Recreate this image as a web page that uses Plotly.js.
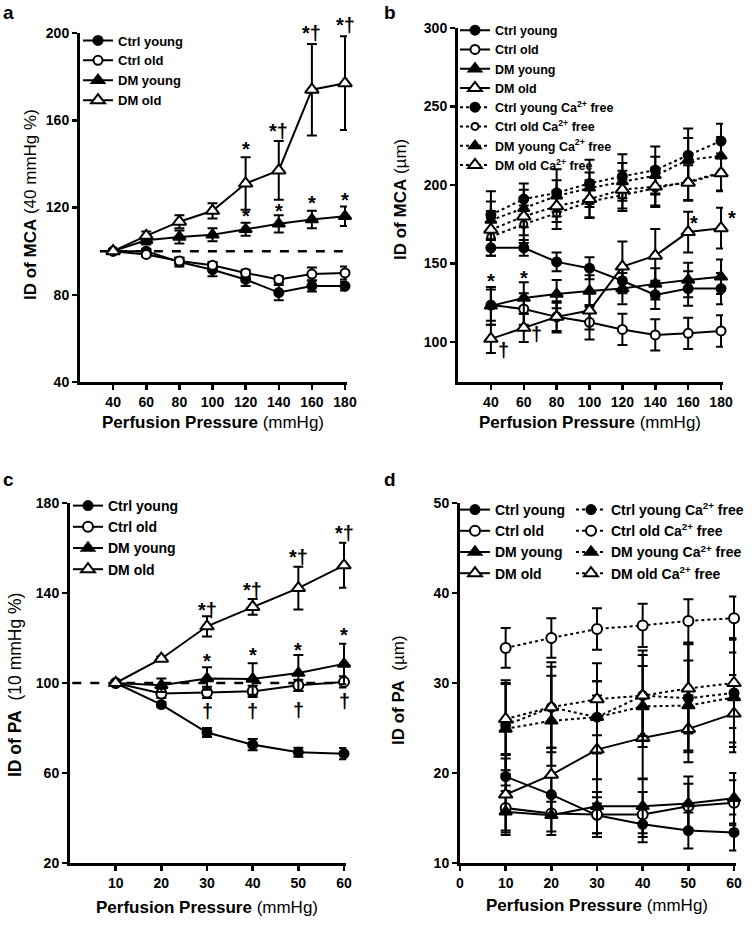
<!DOCTYPE html>
<html>
<head>
<meta charset="utf-8">
<script src="https://cdn.plot.ly/plotly-3.0.1.min.js"></script>
<style>
  html, body { margin:0; padding:0; background:#fff; }
  #chart { width:756px; height:940px; }
</style>
</head>
<body>
<div id="chart"></div>
<script>
// pressures
const xMCA = [40, 60, 80, 100, 120, 140, 160, 180];
const xPA = [10, 20, 30, 40, 50, 60];

// panel a: ID of MCA, % of 40 mmHg
const aCtrlYoung = [100, 100, 95, 91.5, 87, 81, 84, 84];
const aCtrlYoungErr = [0.5, 1, 2, 3, 3, 3.5, 2.5, 2];
const aCtrlOld = [100, 98.5, 95.5, 93.5, 90, 87, 89.5, 90];
const aCtrlOldErr = [0.5, 1, 1.5, 1.5, 1.5, 1.5, 3, 3];
const aDmYoung = [100, 105, 106.5, 107.5, 110, 112.5, 114.5, 116];
const aDmYoungErr = [1, 2, 3, 3, 3, 4, 4, 4.5];
const aDmOld = [100, 107, 113.5, 118.5, 131, 137, 174, 177];
const aDmOldErr = [1, 2, 3, 3.5, 12, 13.5, 21, 21.5];

// panel b: ID of MCA, um
const bCtrlYoung = [160, 160, 151, 147, 139, 130, 134, 134];
const bCtrlYoungErr = [5, 5, 6, 7, 8, 9, 11, 10];
const bCtrlOld = [123.5, 121, 116, 112.5, 108, 104.5, 105.5, 107];
const bCtrlOldErr = [10, 10, 10, 11, 10, 10, 10, 10];
const bDmYoung = [123, 128, 130.5, 132.5, 134, 137, 139.5, 141.5];
const bDmYoungErr = [12, 10, 9, 10, 10, 10, 11, 11];
const bDmOld = [102, 109, 116, 120, 148, 155, 170, 172.5];
const bDmOldErr = [9, 9, 9, 12, 16, 17, 13, 13];
const bCtrlYoungCa = [181, 191, 195, 201, 205.5, 209.5, 219, 228];
const bCtrlYoungCaErr = [15, 10, 15, 15, 14, 15, 17, 11];
const bCtrlOldCa = [167, 175, 182, 189.5, 193.5, 198, 202, 208];
const bCtrlOldCaErr = [12, 12, 10, 10, 10, 12, 12, 12];
const bDmYoungCa = [177.5, 185, 193, 198, 202, 206, 216, 218.5];
const bDmYoungCaErr = [12, 12, 10, 10, 12, 12, 14, 12];
const bDmOldCa = [171.5, 180, 186.5, 191, 197, 199, 201.5, 207.5];
const bDmOldCaErr = [12, 12, 10, 12, 12, 12, 11, 11];

// panel c: ID of PA, % of 10 mmHg
const cCtrlYoung = [100, 90.4, 78, 72.6, 69.2, 68.6];
const cCtrlYoungErr = [0.5, 1, 2, 2.5, 2, 2.5];
const cCtrlOld = [100, 95.3, 95.8, 96.3, 99, 100.5];
const cCtrlOldErr = [0.5, 2, 2.5, 2.5, 2.5, 2.5];
const cDmYoung = [100, 99, 102, 101.8, 104.4, 108.5];
const cDmYoungErr = [0.5, 3, 5, 7, 8, 9];
const cDmOld = [100, 110.8, 125.2, 133.8, 142.2, 152.3];
const cDmOldErr = [0.5, 1, 4.5, 3.5, 9.5, 10];

// panel d: ID of PA, um
const dCtrlYoung = [19.6, 17.6, 15.3, 14.3, 13.6, 13.4];
const dCtrlYoungErr = [2, 2, 2, 2, 2, 2];
const dCtrlOld = [16.1, 15.5, 15.4, 15.4, 16.3, 16.7];
const dCtrlOldErr = [2.5, 2, 2.5, 2.5, 2.5, 2.5];
const dDmYoung = [15.7, 15.3, 16.3, 16.3, 16.6, 17.2];
const dDmYoungErr = [2.3, 2.2, 3, 3, 3, 2.8];
const dDmOld = [17.6, 19.8, 22.6, 23.9, 24.9, 26.6];
const dDmOldErr = [4.5, 3, 6, 4.5, 3.7, 4.3];
const dCtrlYoungCa = [25.3, 27.3, 26.2, 28.6, 28.3, 28.9];
const dCtrlYoungCaErr = [5, 5, 4, 5, 6, 6];
const dCtrlOldCa = [33.9, 35, 36, 36.4, 36.9, 37.2];
const dCtrlOldCaErr = [2.2, 2.2, 2.3, 2.4, 2.4, 2.4];
const dDmYoungCa = [24.9, 25.8, 26.2, 27.4, 27.5, 28.4];
const dDmYoungCaErr = [5, 5, 4, 4.5, 5, 5];
const dDmOldCa = [26, 27.3, 28.2, 28.6, 29.4, 30.0];
const dDmOldCaErr = [4, 4.5, 4, 4.5, 5, 5];

// significance marks [x, y, text, xshift px, yshift px]
const aMarks = [[120,147,'*',0,0],[140,155,'*†',0,0],[160,200,'*†',0,0],[180,200,'*†',0,8],
                [120,116,'*',0,0],[140,118.5,'*',0,0],[160,122,'*',0,0],[180,123.5,'*',0,0]];
const bMarks = [[160,175.5,'*',6,0],[180,178.7,'*',11,0],[40,139,'*',0,0],[60,141,'*',0,0],
                [40,94.7,'†',13,0],[60,105,'†',13,0]];
const cMarks = [[30,132.6,'*†',0,0],[40,141.5,'*†',0,0],[50,156,'*†',0,0],[60,166.7,'*†',0,0],
                [30,109.6,'*',0,0],[40,112.6,'*',0,0],[50,114.8,'*',0,0],[60,121.5,'*',0,0],
                [30,87.4,'†',0,0],[40,87.4,'†',0,0],[50,88.2,'†',0,0],[60,91.8,'†',0,0]];

const FONT = 'Liberation Sans, Arial, sans-serif';
const CA = ' Ca<sup>2+</sup> free';

function series(x, y, err, name, sym, open, dash, n, leg, size){
  return {
    x: x, y: y, type: 'scatter', mode: 'lines+markers', name: '<b>' + name + '</b>',
    xaxis: 'x' + (n > 1 ? n : ''), yaxis: 'y' + (n > 1 ? n : ''), legend: leg,
    cliponaxis: false,
    line: { color: '#000', width: 2, dash: dash },
    marker: { symbol: sym, size: size, color: open ? '#fff' : '#000', line: { color: '#000', width: 2 } },
    error_y: { type: 'data', array: err, visible: true, color: '#000', thickness: 2, width: 5 }
  };
}

const traces = [
  series(xMCA, aCtrlYoung, aCtrlYoungErr, 'Ctrl young', 'circle', false, 'solid', 1, 'legend', 9),
  series(xMCA, aCtrlOld, aCtrlOldErr, 'Ctrl old', 'circle', true, 'solid', 1, 'legend', 9),
  series(xMCA, aDmYoung, aDmYoungErr, 'DM young', 'triangle-up', false, 'solid', 1, 'legend', 11),
  series(xMCA, aDmOld, aDmOldErr, 'DM old', 'triangle-up', true, 'solid', 1, 'legend', 12),

  series(xMCA, bCtrlYoung, bCtrlYoungErr, 'Ctrl young', 'circle', false, 'solid', 2, 'legend2', 9),
  series(xMCA, bCtrlOld, bCtrlOldErr, 'Ctrl old', 'circle', true, 'solid', 2, 'legend2', 9),
  series(xMCA, bDmYoung, bDmYoungErr, 'DM young', 'triangle-up', false, 'solid', 2, 'legend2', 11),
  series(xMCA, bDmOld, bDmOldErr, 'DM old', 'triangle-up', true, 'solid', 2, 'legend2', 12),
  series(xMCA, bCtrlYoungCa, bCtrlYoungCaErr, 'Ctrl young' + CA, 'circle', false, 'dot', 2, 'legend2', 9),
  series(xMCA, bCtrlOldCa, bCtrlOldCaErr, 'Ctrl old' + CA, 'circle', true, 'dot', 2, 'legend2', 7),
  series(xMCA, bDmYoungCa, bDmYoungCaErr, 'DM young' + CA, 'triangle-up', false, 'dot', 2, 'legend2', 10),
  series(xMCA, bDmOldCa, bDmOldCaErr, 'DM old' + CA, 'triangle-up', true, 'dot', 2, 'legend2', 12),

  series(xPA, cCtrlYoung, cCtrlYoungErr, 'Ctrl young', 'circle', false, 'solid', 3, 'legend3', 9),
  series(xPA, cCtrlOld, cCtrlOldErr, 'Ctrl old', 'circle', true, 'solid', 3, 'legend3', 10),
  series(xPA, cDmYoung, cDmYoungErr, 'DM young', 'triangle-up', false, 'solid', 3, 'legend3', 11),
  series(xPA, cDmOld, cDmOldErr, 'DM old', 'triangle-up', true, 'solid', 3, 'legend3', 12),

  series(xPA, dCtrlYoung, dCtrlYoungErr, 'Ctrl young', 'circle', false, 'solid', 4, 'legend4', 9),
  series(xPA, dCtrlOld, dCtrlOldErr, 'Ctrl old', 'circle', true, 'solid', 4, 'legend4', 10),
  series(xPA, dDmYoung, dDmYoungErr, 'DM young', 'triangle-up', false, 'solid', 4, 'legend4', 11),
  series(xPA, dDmOld, dDmOldErr, 'DM old', 'triangle-up', true, 'solid', 4, 'legend4', 12),
  series(xPA, dCtrlYoungCa, dCtrlYoungCaErr, 'Ctrl young' + CA, 'circle', false, 'dot', 4, 'legend5', 9),
  series(xPA, dCtrlOldCa, dCtrlOldCaErr, 'Ctrl old' + CA, 'circle', true, 'dot', 4, 'legend5', 10),
  series(xPA, dDmYoungCa, dDmYoungCaErr, 'DM young' + CA, 'triangle-up', false, 'dot', 4, 'legend5', 11),
  series(xPA, dDmOldCa, dDmOldCaErr, 'DM old' + CA, 'triangle-up', true, 'dot', 4, 'legend5', 12)
];

const W = 756, H = 940;
const px = v => v / W;
const py = v => 1 - v / H;

const ax = {
  showgrid: false, zeroline: false, showline: true, linecolor: '#000', linewidth: 3,
  ticks: 'outside', ticklen: 5, tickwidth: 2.5, tickcolor: '#000', fixedrange: true,
  tickfont: { family: FONT, size: 14, color: '#000', weight: 700 }
};

function legendAt(x, y, size){
  return {
    x: px(x), y: py(y), xanchor: 'left', yanchor: 'top', bgcolor: 'rgba(0,0,0,0)',
    borderwidth: 0, tracegroupgap: 0, traceorder: 'normal',
    font: { family: FONT, size: size, color: '#000' }
  };
}

function marks(list, n){
  return list.map(m => ({
    x: m[0], y: m[1], text: '<b>' + m[2] + '</b>', showarrow: false,
    xshift: m[3], yshift: m[4],
    xref: 'x' + (n > 1 ? n : ''), yref: 'y' + (n > 1 ? n : ''),
    font: { family: FONT, size: 20, color: '#000' }, yanchor: 'middle'
  }));
}

function label(text, x, y, size, angle){
  return {
    text: text, x: px(x), y: py(y), xref: 'paper', yref: 'paper', showarrow: false,
    xanchor: 'center', yanchor: 'middle', textangle: angle || 0,
    font: { family: FONT, size: size, color: '#000' }
  };
}

const annotations = [].concat(
  marks(aMarks, 1), marks(bMarks, 2), marks(cMarks, 3),
  [
    label('<b>a</b>', 8, 12, 19), label('<b>b</b>', 390, 12, 19),
    label('<b>c</b>', 8, 480, 19), label('<b>d</b>', 390, 480, 19),
    label('<b>ID of MCA</b> (40 mmHg %)', 30, 205, 17, -90),
    label('<b>ID of MCA</b> (µm)', 401, 200, 17, -90),
    label('<b>ID of PA</b> \u00a0(10 mmHg %)', 15, 685, 17.5, -90),
    label('<b>ID of PA</b> \u00a0(µm)', 398, 690, 17, -90),
    label('<b>Perfusion Pressure</b> (mmHg)', 213, 423, 17),
    label('<b>Perfusion Pressure</b> (mmHg)', 590, 423, 17),
    label('<b>Perfusion Pressure</b> (mmHg)', 207, 907, 17),
    label('<b>Perfusion Pressure</b> (mmHg)', 597, 905, 17)
  ]
);

// axis ranges run a hair past the last pressure so edge error bars are not cut
const layout = {
  width: W, height: H, margin: { l: 0, r: 0, t: 0, b: 0 },
  paper_bgcolor: '#fff', plot_bgcolor: 'rgba(0,0,0,0)',
  showlegend: true, hovermode: false,
  font: { family: FONT, color: '#000' },
  xaxis: Object.assign({}, ax, { domain: [px(80), px(347)], range: [20, 181.2], tickvals: xMCA, anchor: 'y' }),
  yaxis: Object.assign({}, ax, { domain: [py(382), py(33)], range: [40, 200], tickvals: [40, 80, 120, 160, 200], anchor: 'x' }),
  xaxis2: Object.assign({}, ax, { domain: [px(458), px(723)], range: [20, 181.2], tickvals: xMCA, anchor: 'y2' }),
  yaxis2: Object.assign({}, ax, { domain: [py(382), py(28)], range: [74.5, 300], tickvals: [100, 150, 200, 250, 300], anchor: 'x2' }),
  xaxis3: Object.assign({}, ax, { domain: [px(70), px(346.3)], range: [0, 60.5], tickvals: xPA, anchor: 'y3' }),
  yaxis3: Object.assign({}, ax, { domain: [py(863), py(503)], range: [20, 180], tickvals: [20, 60, 100, 140, 180], anchor: 'x3' }),
  xaxis4: Object.assign({}, ax, { domain: [px(460), px(736.3)], range: [0, 60.5], tickvals: [0, 10, 20, 30, 40, 50, 60], anchor: 'y4' }),
  yaxis4: Object.assign({}, ax, { domain: [py(863), py(503)], range: [10, 50], tickvals: [10, 20, 30, 40, 50], anchor: 'x4' }),
  legend: legendAt(78, 25.5, 13),
  legend2: legendAt(455, 15.5, 12.5),
  legend3: legendAt(68, 490, 14),
  legend4: legendAt(455, 494, 14),
  legend5: legendAt(571, 494, 14),
  shapes: [
    { type: 'line', xref: 'x', yref: 'y', x0: 32, x1: 188, y0: 100, y1: 100, line: { color: '#000', width: 2.5, dash: 'dash' }, layer: 'below' },
    { type: 'line', xref: 'x3', yref: 'y3', x0: 0.5, x1: 63, y0: 100, y1: 100, line: { color: '#000', width: 2.5, dash: 'dash' }, layer: 'below' }
  ],
  annotations: annotations
};

Plotly.newPlot('chart', traces, layout, { staticPlot: true });
</script>
</body>
</html>
